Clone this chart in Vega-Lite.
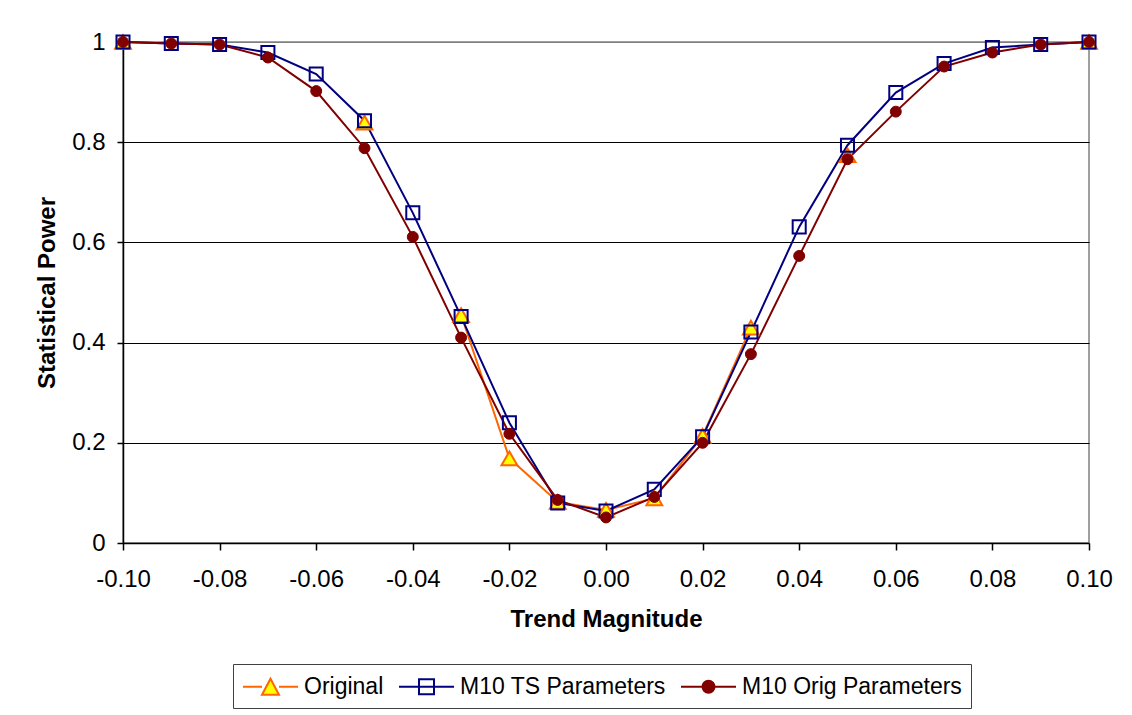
{
  "$schema": "https://vega.github.io/schema/vega-lite/v6.json",
  "width": 966,
  "height": 501,
  "autosize": {"type": "none"},
  "padding": {"left": 123, "top": 42, "right": 43, "bottom": 172},
  "background": "white",
  "config": {
    "font": "Liberation Sans",
    "view": {"stroke": "#808080", "strokeWidth": 1.5},
    "axis": {"labelFont": "Liberation Sans", "titleFont": "Liberation Sans", "labelColor": "black", "titleColor": "black", "domainColor": "black", "tickColor": "black", "domainWidth": 1.5, "tickWidth": 1.5}
  },
  "datasets": {
    "power": [
      {"trend": -0.10, "series": "Original", "power": 1.0},
      {"trend": -0.10, "series": "M10 TS Parameters", "power": 1.0},
      {"trend": -0.10, "series": "M10 Orig Parameters", "power": 1.0},
      {"trend": -0.09, "series": "Original", "power": null},
      {"trend": -0.09, "series": "M10 TS Parameters", "power": 0.997},
      {"trend": -0.09, "series": "M10 Orig Parameters", "power": 0.997},
      {"trend": -0.08, "series": "Original", "power": null},
      {"trend": -0.08, "series": "M10 TS Parameters", "power": 0.995},
      {"trend": -0.08, "series": "M10 Orig Parameters", "power": 0.995},
      {"trend": -0.07, "series": "Original", "power": null},
      {"trend": -0.07, "series": "M10 TS Parameters", "power": 0.979},
      {"trend": -0.07, "series": "M10 Orig Parameters", "power": 0.969},
      {"trend": -0.06, "series": "Original", "power": null},
      {"trend": -0.06, "series": "M10 TS Parameters", "power": 0.936},
      {"trend": -0.06, "series": "M10 Orig Parameters", "power": 0.902},
      {"trend": -0.05, "series": "Original", "power": 0.839},
      {"trend": -0.05, "series": "M10 TS Parameters", "power": 0.843},
      {"trend": -0.05, "series": "M10 Orig Parameters", "power": 0.788},
      {"trend": -0.04, "series": "Original", "power": null},
      {"trend": -0.04, "series": "M10 TS Parameters", "power": 0.659},
      {"trend": -0.04, "series": "M10 Orig Parameters", "power": 0.611},
      {"trend": -0.03, "series": "Original", "power": 0.455},
      {"trend": -0.03, "series": "M10 TS Parameters", "power": 0.452},
      {"trend": -0.03, "series": "M10 Orig Parameters", "power": 0.41},
      {"trend": -0.02, "series": "Original", "power": 0.169},
      {"trend": -0.02, "series": "M10 TS Parameters", "power": 0.24},
      {"trend": -0.02, "series": "M10 Orig Parameters", "power": 0.218},
      {"trend": -0.01, "series": "Original", "power": 0.082},
      {"trend": -0.01, "series": "M10 TS Parameters", "power": 0.08},
      {"trend": -0.01, "series": "M10 Orig Parameters", "power": 0.086},
      {"trend": 0.0, "series": "Original", "power": 0.066},
      {"trend": 0.0, "series": "M10 TS Parameters", "power": 0.064},
      {"trend": 0.0, "series": "M10 Orig Parameters", "power": 0.051},
      {"trend": 0.01, "series": "Original", "power": 0.089},
      {"trend": 0.01, "series": "M10 TS Parameters", "power": 0.107},
      {"trend": 0.01, "series": "M10 Orig Parameters", "power": 0.092},
      {"trend": 0.02, "series": "Original", "power": 0.214},
      {"trend": 0.02, "series": "M10 TS Parameters", "power": 0.212},
      {"trend": 0.02, "series": "M10 Orig Parameters", "power": 0.2},
      {"trend": 0.03, "series": "Original", "power": 0.43},
      {"trend": 0.03, "series": "M10 TS Parameters", "power": 0.421},
      {"trend": 0.03, "series": "M10 Orig Parameters", "power": 0.377},
      {"trend": 0.04, "series": "Original", "power": null},
      {"trend": 0.04, "series": "M10 TS Parameters", "power": 0.631},
      {"trend": 0.04, "series": "M10 Orig Parameters", "power": 0.573},
      {"trend": 0.05, "series": "Original", "power": 0.774},
      {"trend": 0.05, "series": "M10 TS Parameters", "power": 0.794},
      {"trend": 0.05, "series": "M10 Orig Parameters", "power": 0.766},
      {"trend": 0.06, "series": "Original", "power": null},
      {"trend": 0.06, "series": "M10 TS Parameters", "power": 0.899},
      {"trend": 0.06, "series": "M10 Orig Parameters", "power": 0.861},
      {"trend": 0.07, "series": "Original", "power": null},
      {"trend": 0.07, "series": "M10 TS Parameters", "power": 0.957},
      {"trend": 0.07, "series": "M10 Orig Parameters", "power": 0.951},
      {"trend": 0.08, "series": "Original", "power": null},
      {"trend": 0.08, "series": "M10 TS Parameters", "power": 0.989},
      {"trend": 0.08, "series": "M10 Orig Parameters", "power": 0.979},
      {"trend": 0.09, "series": "Original", "power": null},
      {"trend": 0.09, "series": "M10 TS Parameters", "power": 0.995},
      {"trend": 0.09, "series": "M10 Orig Parameters", "power": 0.995},
      {"trend": 0.10, "series": "Original", "power": 1.0},
      {"trend": 0.10, "series": "M10 TS Parameters", "power": 1.0},
      {"trend": 0.10, "series": "M10 Orig Parameters", "power": 1.0}
    ]
  },
  "data": {"name": "power"},
  "encoding": {
    "x": {
      "field": "trend", "type": "quantitative",
      "scale": {"domain": [-0.1, 0.1], "nice": false, "zero": false},
      "axis": {
        "title": "Trend Magnitude",
        "values": [-0.1, -0.08, -0.06, -0.04, -0.02, 0, 0.02, 0.04, 0.06, 0.08, 0.1],
        "labelExpr": "replace(format(datum.value, '.2f'), '\u2212', '-')",
        "grid": false,
        "tickSize": 7,
        "labelFontSize": 24,
        "labelPadding": 17,
        "labelFlush": false,
        "labelOverlap": false,
        "titleFontSize": 24,
        "titleFontWeight": "bold",
        "titlePadding": 16
      }
    },
    "y": {
      "field": "power", "type": "quantitative",
      "scale": {"domain": [0, 1], "nice": false},
      "axis": {
        "title": "Statistical Power",
        "values": [0, 0.2, 0.4, 0.6, 0.8, 1],
        "format": "~g",
        "grid": true,
        "gridColor": {"condition": {"test": "datum.value >= 1", "value": "#808080"}, "value": "black"},
        "gridWidth": 1.2,
        "tickSize": 6,
        "labelFontSize": 24,
        "labelPadding": 12,
        "labelFlush": false,
        "titleFontSize": 24,
        "titleFontWeight": "bold",
        "titlePadding": 12
      }
    }
  },
  "layer": [
    {
      "mark": {"type": "line", "strokeWidth": 2, "invalid": "break-paths-show-domains"},
      "encoding": {
        "color": {
          "field": "series", "type": "nominal",
          "scale": {"domain": ["Original", "M10 TS Parameters", "M10 Orig Parameters"], "range": ["#FF6600", "#000080", "#800000"]},
          "legend": {
            "orient": "none",
            "legendX": 110,
            "legendY": 622,
            "direction": "horizontal",
            "title": null,
            "strokeColor": "#404040",
            "fillColor": "white",
            "padding": 9,
            "symbolSize": 625,
            "symbolStrokeWidth": 2,
            "symbolOpacity": 1,
            "labelFont": "Liberation Sans",
            "labelFontSize": 23,
            "labelColor": "black",
            "labelOffset": 35,
            "labelLimit": 400,
            "columnPadding": 11,
            "encode": {
              "symbols": {
                "update": {
                  "shape": {"signal": "datum.value === 'Original' ? 'M-1,0H0.52M1.88,0H3.4M1.2,-0.64L1.88,0.64H0.52Z' : datum.value === 'M10 TS Parameters' ? 'M-1,0H3.4M0.6,-0.6H1.8V0.6H0.6Z' : 'M-1,0H3.4M0.72,0A0.48,0.48 0 1,0 1.68,0A0.48,0.48 0 1,0 0.72,0Z'"},
                  "fill": {"signal": "datum.value === 'Original' ? '#FFFF00' : datum.value === 'M10 TS Parameters' ? 'transparent' : '#800000'"},
                  "stroke": {"signal": "datum.value === 'Original' ? '#FF6600' : datum.value === 'M10 TS Parameters' ? '#000080' : '#800000'"},
                  "strokeWidth": {"value": 2},
                  "opacity": {"value": 1}
                }
              }
            }
          }
        }
      }
    },
    {
      "transform": [{"filter": "datum.series === 'Original' && isValid(datum.power)"}],
      "mark": {"type": "point", "shape": "triangle-up", "size": 250, "filled": true, "fill": "#FFFF00", "stroke": "#FF6600", "strokeWidth": 2, "opacity": 1}
    },
    {
      "transform": [{"filter": "datum.series === 'M10 TS Parameters'"}],
      "mark": {"type": "point", "shape": "square", "size": 170, "filled": false, "fill": "transparent", "stroke": "#000080", "strokeWidth": 2, "opacity": 1}
    },
    {
      "transform": [{"filter": "datum.series === 'M10 Orig Parameters'"}],
      "mark": {"type": "point", "shape": "circle", "size": 120, "filled": true, "fill": "#800000", "stroke": "#800000", "strokeWidth": 1, "opacity": 1}
    }
  ]
}
